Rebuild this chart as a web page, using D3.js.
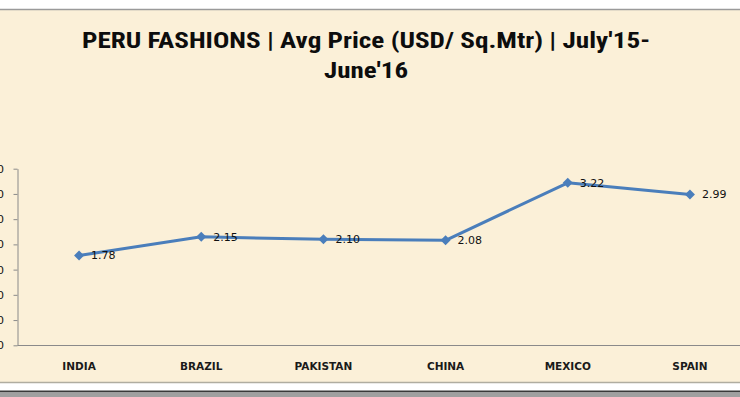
<!DOCTYPE html>
<html>
<head>
<meta charset="utf-8">
<script src="https://cdn.jsdelivr.net/npm/d3@7/dist/d3.min.js"></script>
<style>
  html, body { margin: 0; padding: 0; background: #ffffff; }
  svg { display: block; }
</style>
</head>
<body>
<svg id="chart" width="740" height="397"></svg>
<script>
const categories = ["INDIA", "BRAZIL", "PAKISTAN", "CHINA", "MEXICO", "SPAIN"];
const avgPrice = [1.78, 2.15, 2.10, 2.08, 3.22, 2.99];
const yTicks = [0, 0.5, 1.0, 1.5, 2.0, 2.5, 3.0, 3.5];
const titleLines = ["PERU FASHIONS | Avg Price (USD/ Sq.Mtr) | July'15-", "June'16"];

const W = 740, H = 397;
const svg = d3.select("#chart");

// frame / background
svg.append("rect").attr("x", 0).attr("y", 0).attr("width", W).attr("height", H).attr("fill", "#ffffff");
svg.append("rect").attr("x", 0).attr("y", 10).attr("width", W).attr("height", 372).attr("fill", "#fbf0d8");
svg.append("line").attr("x1", 0).attr("x2", W).attr("y1", 9.5).attr("y2", 9.5).attr("stroke", "#9a9a9a").attr("stroke-width", 1.5);
svg.append("line").attr("x1", 0).attr("x2", W).attr("y1", 382.5).attr("y2", 382.5).attr("stroke", "#b0ada0").attr("stroke-width", 1.5);
svg.append("rect").attr("x", 0).attr("y", 390.5).attr("width", W).attr("height", 2).attr("fill", "#3a3a3a");
svg.append("rect").attr("x", 0).attr("y", 392.5).attr("width", W).attr("height", 4.5).attr("fill", "#a0a0a0");

// title
const titleFont = "'Liberation Sans Narrow', 'Roboto Condensed', 'Open Sans', sans-serif";
const titleWidths = [568, 84];
titleLines.forEach((t, i) => {
  svg.append("text")
    .attr("x", 366).attr("y", 48 + i * 30)
    .attr("text-anchor", "middle")
    .attr("font-family", titleFont)
    .attr("font-weight", "bold")
    .attr("font-size", 22)
    .attr("fill", "#0d0d0d")
    .attr("textLength", titleWidths[i])
    .attr("lengthAdjust", "spacingAndGlyphs")
    .text(t);
});

// scales
const x = d3.scaleBand().domain(categories).range([18, 751]);
const y = d3.scaleLinear().domain([0, 3.5]).range([345.3, 168.7]);
const axisColor = "#8a8a8a";

// y axis
const yAxis = d3.axisLeft(y).tickValues(yTicks).tickSize(4).tickSizeOuter(0).tickFormat(d3.format(".2f"));
const gy = svg.append("g").attr("transform", "translate(17.5,0)").call(yAxis);
gy.select(".domain").attr("stroke", axisColor);
gy.selectAll(".tick line").attr("stroke", axisColor);
gy.selectAll(".tick text")
  .attr("font-family", "'DejaVu Sans', sans-serif")
  .attr("font-size", 11)
  .attr("fill", "#111")
  .attr("x", -13.5);

// x axis
const xAxis = d3.axisBottom(x).tickSize(0).tickSizeOuter(0);
const gx = svg.append("g").attr("transform", "translate(0,345.5)").call(xAxis);
gx.select(".domain").attr("stroke", axisColor).attr("d", "M17.5,0H740");
gx.selectAll(".tick text")
  .attr("font-family", "'DejaVu Sans', sans-serif")
  .attr("font-weight", "bold")
  .attr("font-size", 10.5)
  .attr("fill", "#1a1a1a")
  .attr("dy", 0)
  .attr("y", 24);

// line
const cx = d => x(d) + x.bandwidth() / 2;
const data = categories.map((c, i) => ({ c, v: avgPrice[i] }));
const line = d3.line().x(d => cx(d.c)).y(d => y(d.v));
svg.append("path").datum(data)
  .attr("d", line)
  .attr("fill", "none")
  .attr("stroke", "#4a7ebb")
  .attr("stroke-width", 3)
  .attr("stroke-linejoin", "round");

// markers
svg.selectAll(".mk").data(data).enter().append("path")
  .attr("class", "mk")
  .attr("transform", d => `translate(${cx(d.c)},${y(d.v)})`)
  .attr("d", "M0,-5L5,0L0,5L-5,0Z")
  .attr("fill", "#4a7ebb");

// data labels
svg.selectAll(".lbl").data(data).enter().append("text")
  .attr("class", "lbl")
  .attr("x", d => cx(d.c) + 12)
  .attr("y", d => y(d.v))
  .attr("dy", "0.36em")
  .attr("font-family", "'DejaVu Sans', sans-serif")
  .attr("font-size", 11)
  .attr("fill", "#111")
  .text(d => d3.format(".2f")(d.v));
</script>
</body>
</html>
